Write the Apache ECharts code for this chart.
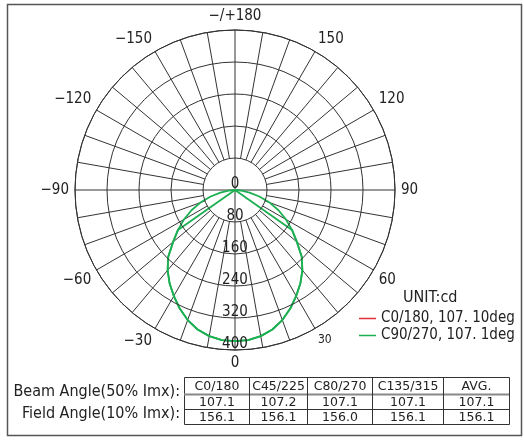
<!DOCTYPE html>
<html><head><meta charset="utf-8">
<script src="https://cdn.jsdelivr.net/npm/echarts@6/dist/echarts.min.js"></script>
<style>html,body{margin:0;padding:0;background:#fff}#c{width:524px;height:444px}</style>
</head><body><div id="c"></div>
<script>
const FONT = '"DejaVu Sans Condensed","DejaVu Sans",sans-serif';
const FONT_T = '"DejaVu Sans",sans-serif';
const GREEN = '#1cb052';
const RED = '#e0303c';

// radial ticks (cd)
const radiusTicks = [0, 80, 160, 240, 320, 400];
// angle labels shown every 30 deg
const angleLabelStep = 30;

// C90/270 curve: angle (deg from nadir) and intensity (cd)
const curveAngles = [-90,-85,-80,-75,-70,-65,-60,-55,-50,-45,-40,-35,-30,-25,-20,-15,-10,-5,0,5,10,15,20,25,30,35,40,45,50,55,60,65,70,75,80,85,90];
const curveC90 = [0,16,37,63,92,120,147,174,202,236,262,285,306,327,346,361,371,377,378,377,371,361,346,327,306,285,262,236,202,174,147,120,92,63,37,16,0];

// C0/180 curve (ends drawn straight to the centre)
const chordAngles = [-90,-55,-50,-45,-40,-35,-30,-25,-20,-15,-10,-5,0,5,10,15,20,25,30,35,40,45,50,55,90];
const chordC0 = [0,174,202,236,262,285,306,327,346,361,371,377,378,377,371,361,346,327,306,285,262,236,202,174,0];

const seriesNames = ['C0/180, 107. 10deg', 'C90/270, 107. 1deg'];

// table
const tableHeads = ['C0/180', 'C45/225', 'C80/270', 'C135/315', 'AVG.'];
const beamAngles = [107.1, 107.2, 107.1, 107.1, 107.1];
const fieldAngles = [156.1, 156.1, 156.0, 156.1, 156.1];
const rowLabels = ['Beam Angle(50% Imx):', 'Field Angle(10% Imx):'];

const toAng = a => (a < 0 ? 360 + a : a);

// grid spokes every 10 deg, from inner ring except the main axes
const spokeData = [];
for (let a = 0; a < 360; a += 10) {
  const inner = (a % 90 === 0) ? 0 : radiusTicks[1];
  spokeData.push([inner, a], [radiusTicks[radiusTicks.length - 1], a], ['-', '-']);
}

const chart = echarts.init(document.getElementById('c'), null, {renderer: 'canvas'});

// table graphics
const cols = [184, 249, 307, 372, 443, 509];
const rows = [377, 394, 409, 424];
const g = [];
g.push({type: 'rect', shape: {x: 7.5, y: 4.5, width: 514, height: 431}, style: {fill: 'none', stroke: '#555', lineWidth: 1.5}, silent: true});
g.push({type: 'rect', shape: {x: cols[0] + .5, y: rows[0] + .5, width: cols[5] - cols[0], height: rows[3] - rows[0]}, style: {fill: 'none', stroke: '#333', lineWidth: 1}, silent: true});
g.push({type: 'line', shape: {x1: cols[0], y1: rows[1] + .5, x2: cols[5], y2: rows[1] + .5}, style: {stroke: '#888', lineWidth: 2}, silent: true});
g.push({type: 'line', shape: {x1: cols[0], y1: rows[2] + .5, x2: cols[5], y2: rows[2] + .5}, style: {stroke: '#333', lineWidth: 1}, silent: true});
for (let i = 1; i < 5; i++) {
  g.push({type: 'line', shape: {x1: cols[i] + .5, y1: rows[0], x2: cols[i] + .5, y2: rows[3]}, style: {stroke: '#333', lineWidth: 1}, silent: true});
}
const rowsVals = [tableHeads, beamAngles.map(v => v.toFixed(1)), fieldAngles.map(v => v.toFixed(1))];
rowsVals.forEach((vals, r) => {
  vals.forEach((t, i) => {
    g.push({type: 'text', x: (cols[i] + cols[i + 1]) / 2 + .5, y: (rows[r] + rows[r + 1]) / 2 + 1,
      style: {text: String(t), font: '12.5px ' + FONT_T, fill: '#222', align: 'center', verticalAlign: 'middle'}, silent: true});
  });
});
rowLabels.forEach((t, r) => {
  g.push({type: 'text', x: 180, y: r === 0 ? 392 : 414,
    style: {text: t, font: '16px ' + FONT, fill: '#222', align: 'right', verticalAlign: 'middle'}, silent: true});
});

chart.setOption({
  animation: false,
  backgroundColor: '#fff',
  title: {text: 'UNIT:cd', left: 403, top: 290, padding: 0,
    textStyle: {fontSize: 16, fontWeight: 'normal', fontFamily: FONT, color: '#222'}},
  legend: {
    orient: 'vertical', left: 359, top: 311, padding: 0,
    itemWidth: 17, itemHeight: 1.5, itemGap: 2, icon: 'rect', selectedMode: false,
    textStyle: {fontSize: 15, fontFamily: FONT, color: '#222', lineHeight: 15, padding: [0, 0, 0, 0]},
    data: [{name: seriesNames[0], itemStyle: {color: RED}}, {name: seriesNames[1], itemStyle: {color: GREEN}}]
  },
  polar: {center: [235, 190], radius: 160},
  angleAxis: {
    type: 'value', min: 0, max: 360, interval: 10, startAngle: 270, clockwise: false,
    axisLine: {show: true, lineStyle: {color: '#333', width: 1}},
    axisTick: {show: false},
    splitLine: {show: false},
    axisLabel: {
      margin: 6, fontSize: 15, fontFamily: FONT, color: '#222',
      formatter: v => {
        if (v % angleLabelStep !== 0 || v === 360) return '';
        if (v === 180) return '\u2212/+180';
        if (v === 30) return '{s|30}';
        return v > 180 ? '\u2212' + (360 - v) : String(v);
      },
      rich: {s: {fontSize: 12, fontFamily: FONT, color: '#222'}}
    }
  },
  radiusAxis: {
    type: 'value', min: radiusTicks[0], max: radiusTicks[radiusTicks.length - 1], interval: radiusTicks[1] - radiusTicks[0],
    axisLine: {show: false}, axisTick: {show: false},
    splitLine: {show: true, lineStyle: {color: '#333', width: 1}},
    axisLabel: {margin: 0, align: 'center', verticalAlign: 'bottom', lineHeight: 11, fontSize: 15, fontFamily: FONT, color: '#222'},
    z: 10
  },
  series: [
    {type: 'line', coordinateSystem: 'polar', silent: true, symbol: 'none', connectNulls: false,
      lineStyle: {color: '#333', width: 1}, data: spokeData, z: 1, legendHoverLink: false},
    {name: seriesNames[0], type: 'line', coordinateSystem: 'polar', symbol: 'none', color: GREEN,
      lineStyle: {color: GREEN, width: 1.8}, z: 3,
      data: chordAngles.map((a, i) => [chordC0[i], toAng(a)])},
    {name: seriesNames[1], type: 'line', coordinateSystem: 'polar', symbol: 'none', color: GREEN,
      lineStyle: {color: GREEN, width: 1.8}, z: 4,
      data: curveAngles.map((a, i) => [curveC90[i], toAng(a)])}
  ],
  graphic: g
});
</script>
</body></html>
